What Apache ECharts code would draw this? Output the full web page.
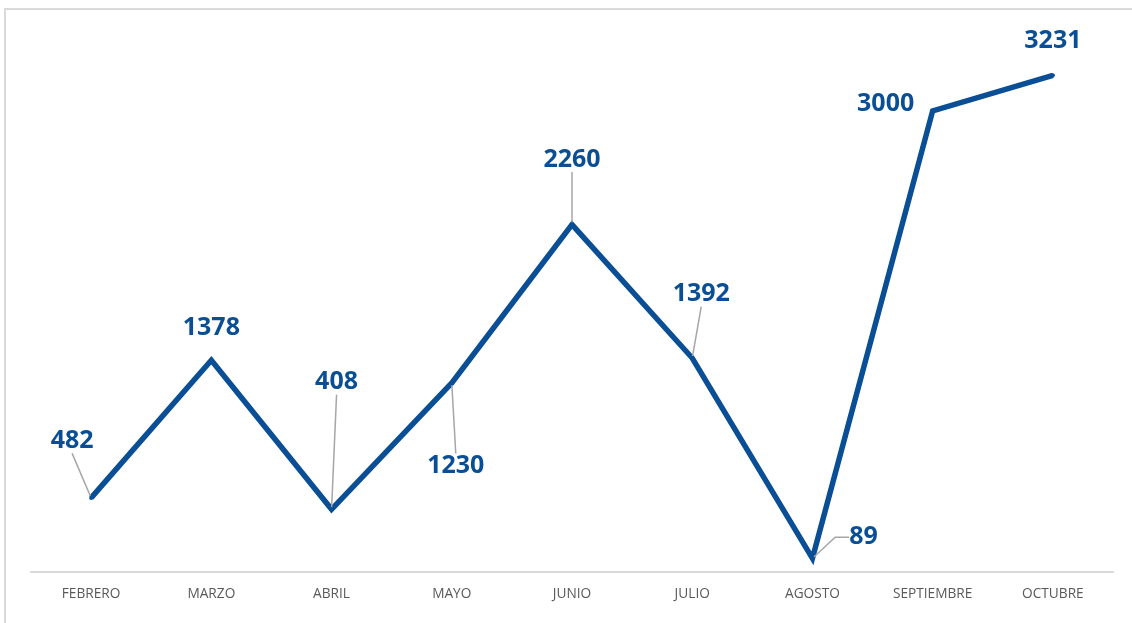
<!DOCTYPE html>
<html>
<head>
<meta charset="utf-8">
<style>
  html, body { margin: 0; padding: 0; background: #ffffff; }
  #chart { width: 1132px; height: 623px; }
</style>
<script src="https://cdn.jsdelivr.net/npm/echarts@6/dist/echarts.min.js"></script>
</head>
<body>
<div id="chart"></div>
<script>
// Monthly totals
const months = ['FEBRERO', 'MARZO', 'ABRIL', 'MAYO', 'JUNIO', 'JULIO', 'AGOSTO', 'SEPTIEMBRE', 'OCTUBRE'];
const totals = [482, 1378, 408, 1230, 2260, 1392, 89, 3000, 3231];

// Label placement (pixel offsets from each point) and whether a leader line is drawn
const labelShift = [[-19, -57], [0, -32], [5, -127], [4, 83], [0, -65], [9, -64], [51, -21], [-47, -7], [0, -34]];
const hasLeader = [true, false, true, true, true, true, true, false, false];

const blue = '#0A4F95';

const chart = echarts.init(document.getElementById('chart'));

const seriesData = totals.map((v, i) => ({
  value: v,
  labelLine: {
    show: hasLeader[i],
    length2: i === 6 ? 14 : 0,
    lineStyle: { color: '#A6A6A6', width: 1.5 }
  }
}));

chart.setOption({
  animation: false,
  backgroundColor: '#ffffff',
  grid: { left: 31, right: 19, top: 34, bottom: 51 },
  xAxis: {
    type: 'category',
    data: months,
    boundaryGap: true,
    axisLine: { lineStyle: { color: '#D9D9D9', width: 2 } },
    axisTick: { show: false },
    axisLabel: { color: '#595959', fontFamily: 'Open Sans', fontSize: 13.7, margin: 15 }
  },
  yAxis: {
    type: 'value',
    min: 0,
    max: 3500,
    show: false,
    splitLine: { show: false }
  },
  graphic: [{
    type: 'rect',
    shape: { x: 5, y: 9, width: 1200, height: 700 },
    style: { fill: 'none', stroke: '#D9D9D9', lineWidth: 2 },
    silent: true
  }],
  series: [{
    type: 'line',
    data: seriesData,
    symbol: 'circle',
    symbolSize: 4,
    showSymbol: true,
    itemStyle: { color: blue },
    lineStyle: { color: blue, width: 5.5, join: 'miter' },
    label: {
      show: true,
      position: 'inside',
      color: blue,
      fontFamily: 'Open Sans',
      fontWeight: 'bold',
      fontSize: 25,
      padding: [8, 6]
    },
    labelLayout: function (params) {
      const s = labelShift[params.dataIndex];
      return { dx: s[0], dy: s[1] };
    }
  }]
});
</script>
</body>
</html>
